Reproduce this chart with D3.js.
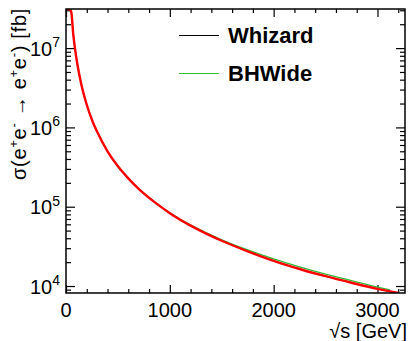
<!DOCTYPE html>
<html>
<head>
<meta charset="utf-8">
<script src="https://cdn.jsdelivr.net/npm/d3@7"></script>
<style>
  body { margin: 0; background: #fff; }
  svg { display: block; font-family: "Liberation Sans", Arial, Helvetica, sans-serif; }
  .axis path { display: none; }
  .axis line { stroke: #000; stroke-width: 1.2; }
</style>
</head>
<body>
<div id="chart"></div>
<script>
// sqrt(s) in GeV
var energies = [10, 30, 50, 70, 87, 110, 150, 200, 258, 300, 400, 500, 600, 700, 850,
                1000, 1250, 1500, 1750, 2000, 2250, 2500, 2750, 3000, 3200];
// red curve (drawn on top of Whizard)
var redValues = [1e9, 8e7, 2.88e7, 1.49e7, 9.8e6, 6.2e6, 3.38e6, 1.93e6, 1.17e6, 8.8e5, 5.0e5, 3.24e5, 2.28e5, 1.68e5, 1.15e5,
                 8.3e4, 5.33e4, 3.72e4, 2.74e4, 2.08e4, 1.64e4, 1.33e4, 1.1e4, 9.2e3, 8.1e3];
var whizardValues = redValues.slice();
var bhwideEnergies = [10, 30, 50, 70, 87, 110, 150, 200, 258, 300, 400, 500, 600, 700, 850,
                      1000, 1250, 1500, 1750, 2000, 2250, 2500, 2750, 3000, 3120];
var bhwideValues = [1e9, 8e7, 2.88e7, 1.49e7, 9.8e6, 6.2e6, 3.38e6, 1.93e6, 1.17e6, 8.8e5, 5.0e5, 3.24e5, 2.28e5, 1.68e5, 1.155e5,
                    8.4e4, 5.45e4, 3.84e4, 2.86e4, 2.2e4, 1.74e4, 1.41e4, 1.17e4, 9.7e3, 8.95e3];
var xMajor = [0, 1000, 2000, 3000];
var yMajor = [4, 5, 6, 7]; // exponents
var legendNames = ["Whizard", "BHWide"];
var legendColors = ["#000000", "#33bb33"];

var W = 409, H = 341;
var margin = {top: 9, right: 4, bottom: 48, left: 66},
    width = W - margin.left - margin.right,
    height = H - margin.top - margin.bottom;

var x = d3.scaleLinear().domain([0, 3265]).range([0, width]);
var y = d3.scaleLog().domain([Math.pow(10, 3.912), Math.pow(10, 7.493)]).range([height, 0]).clamp(true);

var svg = d3.select("#chart").append("svg")
    .attr("width", W)
    .attr("height", H);

var g = svg.append("g")
    .attr("transform", "translate(" + margin.left + "," + margin.top + ")");

g.append("clipPath").attr("id", "clip")
  .append("rect").attr("width", width).attr("height", height);

// minor ticks
var xMinor = d3.range(0, 3265, 200).filter(function(d) { return d % 1000 !== 0; });
var yMinor = [];
[3, 4, 5, 6, 7].forEach(function(e) {
  for (var k = 2; k <= 9; k++) {
    var v = k * Math.pow(10, e);
    if (v > y.domain()[0] && v < y.domain()[1]) yMinor.push(v);
  }
});

g.append("g").attr("class", "axis").attr("transform", "translate(0," + height + ")")
  .call(d3.axisBottom(x).tickValues(xMajor).tickSize(-8).tickFormat(""));
g.append("g").attr("class", "axis").attr("transform", "translate(0," + height + ")")
  .call(d3.axisBottom(x).tickValues(xMinor).tickSize(-4).tickFormat(""));
g.append("g").attr("class", "axis")
  .call(d3.axisTop(x).tickValues(xMajor).tickSize(-8).tickFormat(""));
g.append("g").attr("class", "axis")
  .call(d3.axisTop(x).tickValues(xMinor).tickSize(-4).tickFormat(""));

var yMajorVals = yMajor.map(function(e) { return Math.pow(10, e); });
g.append("g").attr("class", "axis")
  .call(d3.axisLeft(y).tickValues(yMajorVals).tickSize(-9).tickFormat(""));
g.append("g").attr("class", "axis")
  .call(d3.axisLeft(y).tickValues(yMinor).tickSize(-5).tickFormat(""));
g.append("g").attr("class", "axis").attr("transform", "translate(" + width + ",0)")
  .call(d3.axisRight(y).tickValues(yMajorVals).tickSize(-9).tickFormat(""));
g.append("g").attr("class", "axis").attr("transform", "translate(" + width + ",0)")
  .call(d3.axisRight(y).tickValues(yMinor).tickSize(-5).tickFormat(""));

// x tick labels
g.selectAll(".xlab").data(xMajor).enter().append("text")
  .attr("x", function(d) { return x(d); })
  .attr("y", height + 24)
  .attr("text-anchor", "middle")
  .style("font-size", "20px")
  .text(function(d) { return d; });

// y tick labels
var ylab = g.selectAll(".ylab").data(yMajor).enter().append("text")
  .attr("x", -6)
  .attr("y", function(d) { return y(Math.pow(10, d)) + 7.5; })
  .attr("text-anchor", "end")
  .style("font-size", "20px");
ylab.append("tspan").text("10");
ylab.append("tspan").attr("dy", -8.5).style("font-size", "14px").text(function(d) { return d; });

// curves
var line = function(xs) {
  return d3.line()
    .x(function(d, i) { return x(xs[i]); })
    .y(function(d) { return y(d); })
    .curve(d3.curveMonotoneX);
};
var curves = g.append("g").attr("clip-path", "url(#clip)");
curves.append("path").datum(bhwideValues)
  .attr("d", line(bhwideEnergies))
  .attr("fill", "none").attr("stroke", legendColors[1]).attr("stroke-width", 1.2);
curves.append("path").datum(whizardValues)
  .attr("d", line(energies))
  .attr("fill", "none").attr("stroke", legendColors[0]).attr("stroke-width", 1);
curves.append("path").datum(redValues)
  .attr("d", line(energies))
  .attr("fill", "none").attr("stroke", "#ff0000").attr("stroke-width", 2.4);

// frame
g.append("rect").attr("width", width).attr("height", height)
  .attr("fill", "none").attr("stroke", "#000").attr("stroke-width", 1.5);

// axis titles
svg.append("text")
  .attr("x", W - 2).attr("y", 337.5)
  .attr("text-anchor", "end")
  .style("font-size", "20px")
  .text("\u221As [GeV]");

var yt = svg.append("text")
  .attr("transform", "translate(26,8) rotate(-90)")
  .attr("text-anchor", "end")
  .style("font-size", "20px");
var parts = [["\u03C3(e", 0], ["+", 1], ["e", 0], ["-", 1], [" \u2192 e", 0], ["+", 1], ["e", 0], ["-", 1], [") [fb]", 0]];
var prevSup = 0;
parts.forEach(function(p) {
  yt.append("tspan")
    .attr("dy", (p[1] - prevSup) * -8)
    .style("font-size", p[1] ? "13px" : "20px")
    .text(p[0]);
  prevSup = p[1];
});
// stretch the title to the reference length (~172px)
var fullLen = yt.node().getComputedTextLength();
var nChars = parts.map(function(p) { return p[0]; }).join("").length;
yt.style("letter-spacing", ((172 - fullLen) / nChars) + "px");

// legend
var leg = svg.selectAll(".leg").data(legendNames).enter().append("g")
  .attr("transform", function(d, i) { return "translate(179," + (35.5 + i * 38) + ")"; });
leg.append("line").attr("x1", 0).attr("x2", 40)
  .attr("stroke", function(d, i) { return legendColors[i]; }).attr("stroke-width", 1);
leg.append("text").attr("x", 49).attr("y", 7.5)
  .style("font-size", "22px").style("font-weight", "bold")
  .text(function(d) { return d; });
</script>
</body>
</html>
